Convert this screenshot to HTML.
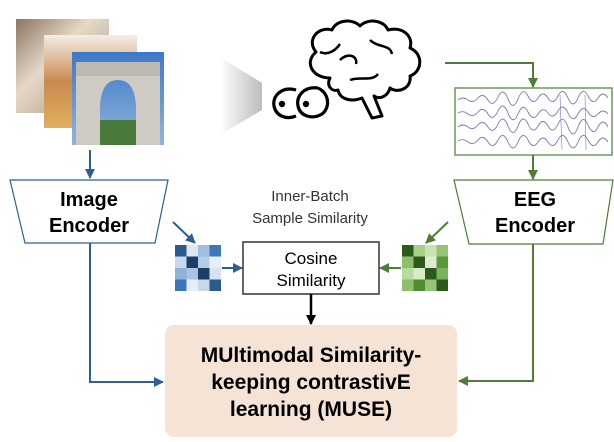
<!DOCTYPE html>
<html><head><meta charset="utf-8"><style>
html,body{margin:0;padding:0;background:#fff;}
svg{display:block;font-family:"Liberation Sans",Arial,sans-serif;}
</style></head><body>
<svg width="614" height="442" viewBox="0 0 614 442" xmlns="http://www.w3.org/2000/svg">
<defs>
<marker id="ab" viewBox="0 0 10 10" refX="9" refY="5" markerWidth="5" markerHeight="5" orient="auto"><path d="M0,0L10,5L0,10z" fill="#2f5f92"/></marker>
<marker id="ag" viewBox="0 0 10 10" refX="9" refY="5" markerWidth="5" markerHeight="5" orient="auto"><path d="M0,0L10,5L0,10z" fill="#4f7d37"/></marker>
<marker id="ak" viewBox="0 0 10 10" refX="9" refY="5" markerWidth="4" markerHeight="4" orient="auto"><path d="M0,0L10,5L0,10z" fill="#000"/></marker>
<linearGradient id="tri" x1="0" x2="1"><stop offset="0" stop-color="#fff"/><stop offset="1" stop-color="#bdbdbd"/></linearGradient>
<linearGradient id="pig" x1="0" y1="0" x2="1" y2="1"><stop offset="0" stop-color="#8a7560"/><stop offset=".4" stop-color="#e6d9c8"/><stop offset="1" stop-color="#a08d78"/></linearGradient>
<linearGradient id="food" x1="0" y1="0" x2="0" y2="1"><stop offset="0" stop-color="#f4eee6"/><stop offset=".5" stop-color="#c98a50"/><stop offset="1" stop-color="#e0b060"/></linearGradient>
<linearGradient id="sky" x1="0" y1="0" x2="0" y2="1"><stop offset="0" stop-color="#3c78c8"/><stop offset="1" stop-color="#8fb5dd"/></linearGradient>
</defs>

<rect x="16" y="19" width="93" height="94" fill="url(#pig)"/>
<rect x="44" y="35" width="93" height="93" fill="url(#food)"/>
<rect x="72" y="52" width="92" height="93" fill="url(#sky)"/>
<path d="M76,62H160V145H136V110Q136,80 118,80Q100,80 100,110V145H76Z" fill="#cfcac2"/>
<rect x="76" y="62" width="84" height="14" fill="#bdb8b0"/>
<rect x="100" y="120" width="36" height="25" fill="#4a7a3a"/>

<polygon points="220,57 262,83 262,110 220,135" fill="url(#tri)"/>

<!-- eyes -->
<g fill="none" stroke="#000" stroke-width="3.2">
<path d="M296,90 C282,86 272,96 274,106 C276,116 286,120 296,116"/>
<path d="M318,88 C304,86 296,96 298,106 C300,116 312,120 322,114 C330,108 330,94 318,88"/>
</g>
<circle cx="282" cy="104" r="3.2" fill="#000"/><circle cx="306" cy="104" r="3.2" fill="#000"/>

<!-- brain -->
<path d="M330,78 C312,78 304,62 316,52 C306,40 318,26 332,30 C336,20 352,18 360,26 C368,18 384,20 388,30 C402,26 414,36 410,48 C424,54 422,72 410,76 C412,88 398,94 390,88 C388,96 380,100 374,96 L382,116 L372,118 L362,98 C352,102 340,100 338,90 C332,92 326,86 330,78 Z" fill="#fff" stroke="#000" stroke-width="3" stroke-linejoin="round"/>
<path d="M340,60 C348,52 358,56 356,64 M370,40 C378,48 390,44 392,54 M350,80 C360,76 372,82 378,74 M320,52 C328,56 336,50 340,44" fill="none" stroke="#000" stroke-width="2.5"/>

<rect x="455" y="88" width="157" height="67" fill="#fff" stroke="#6c9a55" stroke-width="1.5"/>
<g fill="none" stroke="#7a78b8" stroke-width="0.9">
<path d="M458,100 q5,-4 10,0 t10,-2 t10,2 t10,-3 t10,2 t10,0 t10,-3 t10,2 t10,0 t10,-2 t10,2 t10,0 t10,-2 t10,2 t10,0"/>
<path d="M458,113 q5,-3 10,1 t10,-2 t10,2 t10,-3 t10,2 t10,1 t10,-2 t10,2 t10,-1 t10,-2 t10,2 t10,1 t10,-2 t10,2 t10,0"/>
<path d="M458,127 q5,-4 10,0 t10,-2 t10,2 t10,-3 t10,2 t10,0 t10,-2 t10,2 t10,0 t10,-2 t10,3 t10,0 t10,-2 t10,2 t10,0"/>
<path d="M458,141 q5,-3 10,1 t10,-2 t10,2 t10,-2 t10,2 t10,0 t10,-2 t10,2 t10,0 t10,-2 t10,2 t10,0 t10,-2 t10,2 t10,0"/>
<path d="M560,95 L562,150 M585,95 L586,150" stroke-width="0.6"/>
</g>

<line x1="90" y1="150" x2="90" y2="178" stroke="#2f5f92" stroke-width="2" marker-end="url(#ab)"/>
<polyline points="445,63 533,63 533,87" fill="none" stroke="#4f7d37" stroke-width="2" marker-end="url(#ag)"/>
<line x1="533" y1="155" x2="533" y2="179" stroke="#4f7d37" stroke-width="2" marker-end="url(#ag)"/>

<polygon points="10,180 168,180 155,243 25,243" fill="#fff" stroke="#2f5f92" stroke-width="1.2"/>
<text x="89" y="206" font-size="20" font-weight="bold" text-anchor="middle">Image</text>
<text x="89" y="232" font-size="20" font-weight="bold" text-anchor="middle">Encoder</text>
<polygon points="454,180 613,180 603,244 469,244" fill="#fff" stroke="#4f7d37" stroke-width="1.2"/>
<text x="535" y="206" font-size="20" font-weight="bold" text-anchor="middle">EEG</text>
<text x="535" y="232" font-size="20" font-weight="bold" text-anchor="middle">Encoder</text>

<text x="310" y="201" font-size="15" fill="#333" text-anchor="middle">Inner-Batch</text>
<text x="310" y="223" font-size="15" fill="#333" text-anchor="middle">Sample Similarity</text>

<g>
<rect x="175" y="245" width="11.5" height="11.5" fill="#2d5a8c"/><rect x="186.5" y="245" width="11.5" height="11.5" fill="#dce8f4"/><rect x="198" y="245" width="11.5" height="11.5" fill="#9fbee0"/><rect x="209.5" y="245" width="11.5" height="11.5" fill="#3d77b8"/>
<rect x="175" y="256.5" width="11.5" height="11.5" fill="#c5d8ec"/><rect x="186.5" y="256.5" width="11.5" height="11.5" fill="#1d3f66"/><rect x="198" y="256.5" width="11.5" height="11.5" fill="#b5cce6"/><rect x="209.5" y="256.5" width="11.5" height="11.5" fill="#e6eef7"/>
<rect x="175" y="268" width="11.5" height="11.5" fill="#8fb1d8"/><rect x="186.5" y="268" width="11.5" height="11.5" fill="#a9c4e2"/><rect x="198" y="268" width="11.5" height="11.5" fill="#1d3f66"/><rect x="209.5" y="268" width="11.5" height="11.5" fill="#d4e2f1"/>
<rect x="175" y="279.5" width="11.5" height="11.5" fill="#3d77b8"/><rect x="186.5" y="279.5" width="11.5" height="11.5" fill="#e6eef7"/><rect x="198" y="279.5" width="11.5" height="11.5" fill="#c5d8ec"/><rect x="209.5" y="279.5" width="11.5" height="11.5" fill="#2d5a8c"/>
</g>
<g>
<rect x="402" y="245" width="11.5" height="11.5" fill="#2c5a1c"/><rect x="413.5" y="245" width="11.5" height="11.5" fill="#a6cf8a"/><rect x="425" y="245" width="11.5" height="11.5" fill="#c8e2b4"/><rect x="436.5" y="245" width="11.5" height="11.5" fill="#94c474"/>
<rect x="402" y="256.5" width="11.5" height="11.5" fill="#8cc068"/><rect x="413.5" y="256.5" width="11.5" height="11.5" fill="#2c5a1c"/><rect x="425" y="256.5" width="11.5" height="11.5" fill="#dcedcf"/><rect x="436.5" y="256.5" width="11.5" height="11.5" fill="#5a9a3a"/>
<rect x="402" y="268" width="11.5" height="11.5" fill="#b8dba0"/><rect x="413.5" y="268" width="11.5" height="11.5" fill="#d8ecc8"/><rect x="425" y="268" width="11.5" height="11.5" fill="#2c5a1c"/><rect x="436.5" y="268" width="11.5" height="11.5" fill="#7ab45a"/>
<rect x="402" y="279.5" width="11.5" height="11.5" fill="#8cc068"/><rect x="413.5" y="279.5" width="11.5" height="11.5" fill="#4f8e30"/><rect x="425" y="279.5" width="11.5" height="11.5" fill="#94c474"/><rect x="436.5" y="279.5" width="11.5" height="11.5" fill="#2c5a1c"/>
</g>

<line x1="173" y1="222" x2="195" y2="243" stroke="#2f5f92" stroke-width="2" marker-end="url(#ab)"/>
<line x1="222" y1="268" x2="242" y2="268" stroke="#2f5f92" stroke-width="2" marker-end="url(#ab)"/>
<line x1="448" y1="222" x2="426" y2="243" stroke="#4f7d37" stroke-width="2" marker-end="url(#ag)"/>
<line x1="401" y1="268" x2="380" y2="268" stroke="#4f7d37" stroke-width="2" marker-end="url(#ag)"/>

<rect x="243" y="242" width="136" height="52" fill="#fff" stroke="#333" stroke-width="1.5"/>
<text x="311" y="264" font-size="17" text-anchor="middle">Cosine</text>
<text x="311" y="286" font-size="17" text-anchor="middle">Similarity</text>
<line x1="311" y1="294" x2="311" y2="324" stroke="#000" stroke-width="2.5" marker-end="url(#ak)"/>

<rect x="165" y="325" width="292" height="112" rx="9" fill="#f5e3d6"/>
<text x="311" y="362" font-size="21" font-weight="bold" text-anchor="middle">MUltimodal Similarity-</text>
<text x="311" y="389" font-size="21" font-weight="bold" text-anchor="middle">keeping contrastivE</text>
<text x="311" y="416" font-size="21" font-weight="bold" text-anchor="middle">learning (MUSE)</text>

<polyline points="90,243 90,382 163,382" fill="none" stroke="#2f5f92" stroke-width="2" marker-end="url(#ab)"/>
<polyline points="533,244 533,381 459,381" fill="none" stroke="#4f7d37" stroke-width="2" marker-end="url(#ag)"/>
</svg>
</body></html>
